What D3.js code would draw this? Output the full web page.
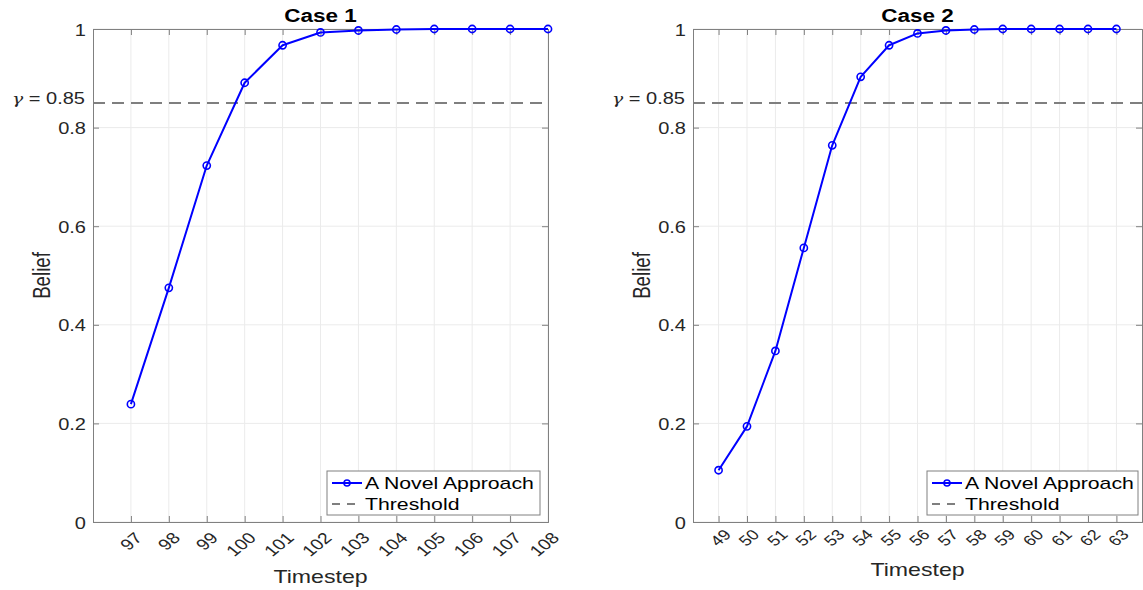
<!DOCTYPE html>
<html>
<head>
<meta charset="utf-8">
<script src="https://cdn.jsdelivr.net/npm/d3@7"></script>
<style>
  body { margin: 0; background: #fff; }
  svg { font-family: "Liberation Sans", Arial, Helvetica, sans-serif; }
</style>
</head>
<body>
<div id="chart"></div>
<script>
// values
const case1Steps = [97, 98, 99, 100, 101, 102, 103, 104, 105, 106, 107, 108];
const case1Belief = [0.239, 0.475, 0.723, 0.891, 0.967, 0.993, 0.997, 0.999, 1.0, 1.0, 1.0, 1.0];
const case2Steps = [49, 50, 51, 52, 53, 54, 55, 56, 57, 58, 59, 60, 61, 62, 63];
const case2Belief = [0.105, 0.194, 0.347, 0.556, 0.764, 0.903, 0.967, 0.991, 0.997, 0.999, 1.0, 1.0, 1.0, 1.0, 1.0];
const threshold = 0.85;
const yTicks = [0, 0.2, 0.4, 0.6, 0.8, 1];
const titles = ['Case 1', 'Case 2'];
const seriesName = 'A Novel Approach';
const thresholdName = 'Threshold';

const width = 1143, height = 590;
const sx = 1.25; // the figure is stretched horizontally
const svg = d3.select('#chart').append('svg')
  .attr('width', width)
  .attr('height', height);

const panels = [
  {title: titles[0], steps: case1Steps, belief: case1Belief, xDomain: [96, 108], left: 93, right: 548,
    tickFont: 15.5, tickDx: 12, tickDy: 17, xLabelY: 583, legendX: 327, legendW: 213},
  {title: titles[1], steps: case2Steps, belief: case2Belief, xDomain: [48.1, 63.9], left: 693, right: 1142,
    tickFont: 14.5, tickDx: 13, tickDy: 13.5, xLabelY: 576, legendX: 927, legendW: 211}
];
const plotTop = 29, plotBottom = 522;
const axisColor = '#808080';
const textColor = '#262626';

function stretched(x, y, rot) {
  return 'translate(' + x + ',' + y + ') scale(' + sx + ',1)' + (rot ? ' rotate(' + rot + ')' : '');
}

panels.forEach(p => {
  const x = d3.scaleLinear().domain(p.xDomain).range([p.left, p.right]);
  const y = d3.scaleLinear().domain([0, 1]).range([plotBottom, plotTop]);
  const g = svg.append('g');

  // grid
  g.append('g').selectAll('line')
    .data(p.steps)
    .enter().append('line')
    .attr('x1', d => x(d)).attr('x2', d => x(d))
    .attr('y1', plotTop).attr('y2', plotBottom)
    .attr('stroke', '#ebebeb').attr('stroke-width', 1);
  g.append('g').selectAll('line')
    .data(yTicks)
    .enter().append('line')
    .attr('x1', p.left).attr('x2', p.right)
    .attr('y1', d => y(d)).attr('y2', d => y(d))
    .attr('stroke', '#ebebeb').attr('stroke-width', 1);

  // axes (ticks inside)
  const xAxis = g.append('g')
    .attr('transform', 'translate(0,' + plotBottom + ')')
    .call(d3.axisBottom(x).tickValues(p.steps).tickSize(-6).tickPadding(0).tickFormat(d3.format('d')));
  xAxis.selectAll('text')
    .attr('x', null).attr('y', null).attr('dy', null)
    .attr('transform', stretched(p.tickDx, p.tickDy, -45))
    .attr('text-anchor', 'end')
    .attr('font-size', p.tickFont)
    .attr('fill', textColor);

  const yAxis = g.append('g')
    .attr('transform', 'translate(' + p.left + ',0)')
    .call(d3.axisLeft(y).tickValues(yTicks).tickSize(-6)
      .tickFormat(d => d === 0 || d === 1 ? d3.format('d')(d) : d3.format('.1f')(d)));
  yAxis.selectAll('text')
    .attr('x', null).attr('dy', null)
    .attr('transform', stretched(-7, 6))
    .attr('text-anchor', 'end')
    .attr('font-size', 16).attr('fill', textColor);

  g.append('g')
    .attr('transform', 'translate(' + p.right + ',0)')
    .call(d3.axisRight(y).tickValues(yTicks).tickSize(-6).tickFormat(''));
  g.append('g')
    .attr('transform', 'translate(0,' + plotTop + ')')
    .call(d3.axisTop(x).tickValues(p.steps).tickSize(-6).tickFormat(''));

  g.selectAll('.domain').attr('stroke', axisColor);
  g.selectAll('.tick line').attr('stroke', axisColor);

  // threshold
  g.append('line')
    .attr('x1', p.left).attr('x2', p.right)
    .attr('y1', y(threshold)).attr('y2', y(threshold))
    .attr('stroke', '#7f7f7f').attr('stroke-width', 2)
    .attr('stroke-dasharray', '12,7');

  g.append('text')
    .attr('transform', stretched(p.left - 8, y(threshold) + 1.5))
    .attr('text-anchor', 'end')
    .attr('font-size', 16)
    .attr('fill', textColor)
    .html('<tspan font-family="DejaVu Serif, serif" font-style="italic" font-size="15">γ</tspan> = 0.85');

  // series
  const data = p.steps.map((s, i) => ({step: s, value: p.belief[i]}));
  const line = d3.line().x(d => x(d.step)).y(d => y(d.value));
  g.append('path')
    .datum(data)
    .attr('fill', 'none')
    .attr('stroke', '#0000ff')
    .attr('stroke-width', 2)
    .attr('stroke-linejoin', 'round')
    .attr('d', line);
  g.append('g').selectAll('circle')
    .data(data)
    .enter().append('circle')
    .attr('cx', d => x(d.step))
    .attr('cy', d => y(d.value))
    .attr('r', 3.6)
    .attr('fill', 'none')
    .attr('stroke', '#0000ff')
    .attr('stroke-width', 1.6);

  // titles and labels
  const cx = (p.left + p.right) / 2;
  g.append('text')
    .attr('transform', stretched(cx, 22))
    .attr('text-anchor', 'middle')
    .attr('font-size', 18).attr('font-weight', 'bold')
    .attr('fill', '#000')
    .text(p.title);
  g.append('text')
    .attr('transform', stretched(cx, p.xLabelY))
    .attr('text-anchor', 'middle')
    .attr('font-size', 18.5)
    .attr('fill', textColor)
    .text('Timestep');
  g.append('text')
    .attr('transform', stretched(p.left - 43, (plotTop + plotBottom) / 2, -90))
    .attr('text-anchor', 'middle')
    .attr('font-size', 18.7)
    .attr('fill', textColor)
    .text('Belief');

  // legend
  const legend = g.append('g').attr('transform', 'translate(' + p.legendX + ',471)');
  legend.append('rect')
    .attr('width', p.legendW).attr('height', 44)
    .attr('fill', '#fff').attr('stroke', '#808080').attr('stroke-width', 1);
  legend.append('line')
    .attr('x1', 5).attr('x2', 35).attr('y1', 12).attr('y2', 12)
    .attr('stroke', '#0000ff').attr('stroke-width', 2);
  legend.append('circle')
    .attr('cx', 20).attr('cy', 12).attr('r', 3)
    .attr('fill', 'none').attr('stroke', '#0000ff').attr('stroke-width', 1.6);
  legend.append('line')
    .attr('x1', 5).attr('x2', 35).attr('y1', 33).attr('y2', 33)
    .attr('stroke', '#7f7f7f').attr('stroke-width', 2).attr('stroke-dasharray', '8,7');
  legend.append('text')
    .attr('transform', stretched(38, 18))
    .attr('font-size', 17).attr('fill', '#000')
    .text(seriesName);
  legend.append('text')
    .attr('transform', stretched(38, 39))
    .attr('font-size', 17).attr('fill', '#000')
    .text(thresholdName);
});
</script>
</body>
</html>
